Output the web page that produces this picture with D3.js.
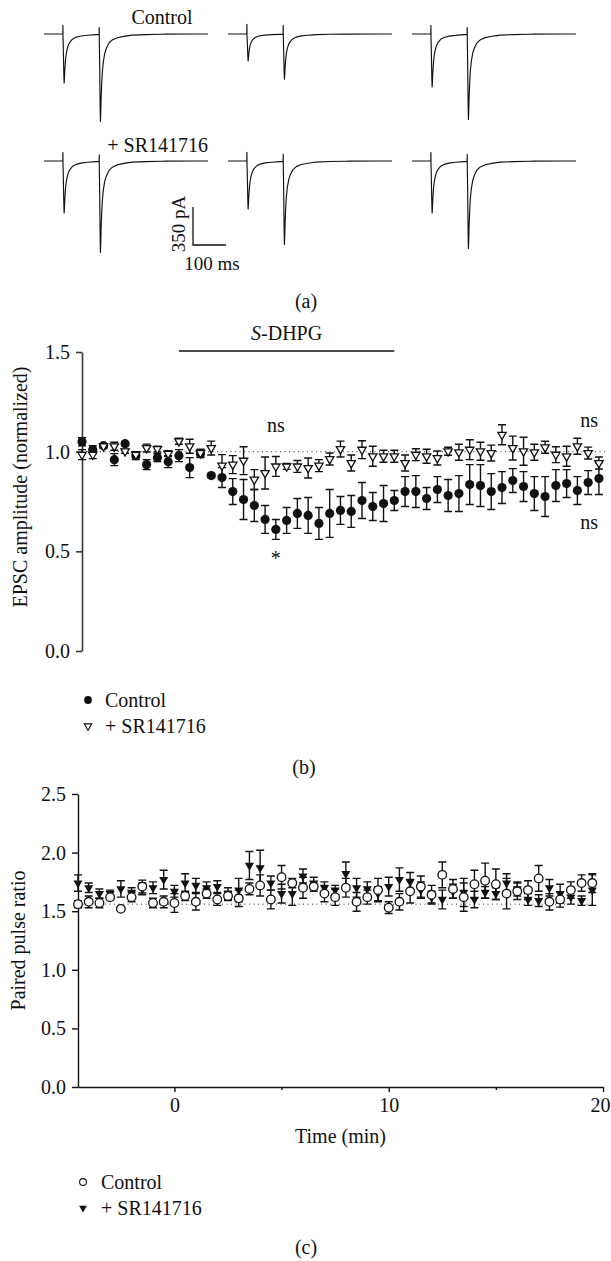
<!DOCTYPE html>
<html><head><meta charset="utf-8">
<script src="https://cdn.jsdelivr.net/npm/d3@7"></script>
<style>
body{margin:0;background:#fff}
svg{display:block}
text{font-family:"Liberation Serif","Times New Roman",serif;fill:#111}
</style>
</head><body>
<svg id="fig" width="611" height="1261" font-family="Liberation Serif, serif"></svg>
<script>
// ---------------- DATA ----------------
// Panel (a): example traces (peak EPSC amplitudes in pA)
const traceRowLabels = ["Control", "+ SR141716"];
const peak1PA = [[451, 249, 488], [479, 442, 479]];
const peak2PA = [[801, 414, 783], [838, 764, 801]];
const stimTimesMs = [0, 110];
const artifactPA = 100;
// normalized EPSC waveform (ms after stimulus, fraction of peak)
const epscTimeMs = [0, 1, 2, 3, 4, 5, 6, 8, 10, 13, 17, 22, 30, 40, 55, 75, 100, 140, 200, 300, 400];
const epscShape  = [0, -0.15, -0.45, -0.8, -1, -0.9, -0.74, -0.55, -0.42, -0.31, -0.22, -0.16, -0.1, -0.065, -0.04, -0.025, -0.012, -0.006, -0.002, 0, 0];
const artifactTimeMs = [0, 0.3, 0.7];
const artifactShape  = [0, 1, 0];
const scaleBarPA = 350, scaleBarMs = 100;

// Panels (b),(c): time (min)
const timeMin = [-4.5,-4,-3.5,-3,-2.5,-2,-1.5,-1,-0.5,0,0.5,1,1.5,2,2.5,3,3.5,4,4.5,5,5.5,6,6.5,7,7.5,8,8.5,9,9.5,10,10.5,11,11.5,12,12.5,13,13.5,14,14.5,15,15.5,16,16.5,17,17.5,18,18.5,19,19.5];

// Panel (b): EPSC amplitude (normalized)
const ampControl = [1.05,1.01,1.03,0.96,1.04,0.98,0.935,0.97,0.95,0.98,0.92,0.99,0.88,0.87,0.80,0.76,0.73,0.66,0.61,0.655,0.69,0.68,0.64,0.69,0.705,0.70,0.755,0.725,0.74,0.755,0.80,0.80,0.765,0.81,0.78,0.79,0.835,0.83,0.80,0.82,0.855,0.825,0.79,0.775,0.83,0.84,0.805,0.845,0.865];
const ampControlErr = [0.02,0.02,0.01,0.03,0.01,0.02,0.025,0.02,0.03,0.03,0.05,0.02,0.01,0.05,0.065,0.1,0.08,0.07,0.05,0.065,0.075,0.09,0.08,0.12,0.07,0.08,0.09,0.07,0.09,0.05,0.075,0.08,0.055,0.065,0.08,0.09,0.1,0.105,0.09,0.08,0.06,0.075,0.085,0.1,0.08,0.07,0.07,0.06,0.08];
const ampSR = [0.985,0.985,1.027,1.027,1.002,0.985,1.018,1.013,0.99,1.052,1.027,0.993,1.018,0.93,0.935,0.955,0.86,0.893,0.926,0.926,0.926,0.918,0.93,0.963,1.013,0.943,1.01,0.977,0.977,0.977,0.943,0.985,0.977,0.968,1.002,0.997,1.01,1.002,0.993,1.085,1.018,1.002,0.997,1.022,0.985,0.977,1.027,0.993,0.943];
const ampSRErr = [0.025,0.02,0.01,0.02,0.01,0.015,0.02,0.015,0.015,0.015,0.035,0.02,0.035,0.055,0.045,0.07,0.05,0.08,0.05,0.015,0.03,0.05,0.03,0.03,0.04,0.04,0.045,0.05,0.03,0.03,0.04,0.03,0.035,0.035,0.02,0.04,0.05,0.045,0.04,0.05,0.06,0.07,0.04,0.03,0.04,0.05,0.04,0.03,0.03];

// Panel (c): paired pulse ratio
const pprControl = [1.56,1.58,1.57,1.62,1.52,1.62,1.71,1.57,1.58,1.57,1.63,1.58,1.65,1.60,1.63,1.61,1.69,1.72,1.60,1.79,1.74,1.70,1.71,1.65,1.62,1.70,1.58,1.62,1.68,1.53,1.58,1.67,1.71,1.64,1.81,1.69,1.62,1.73,1.76,1.73,1.65,1.67,1.68,1.78,1.58,1.60,1.68,1.74,1.74];
const pprControlErr = [0.03,0.05,0.04,0.02,0.015,0.04,0.055,0.04,0.05,0.08,0.04,0.07,0.04,0.05,0.04,0.07,0.05,0.09,0.08,0.1,0.04,0.09,0.04,0.07,0.07,0.08,0.08,0.06,0.1,0.05,0.07,0.1,0.09,0.08,0.11,0.08,0.12,0.12,0.15,0.13,0.13,0.07,0.08,0.11,0.07,0.065,0.07,0.07,0.08];
const pprSR = [1.74,1.70,1.65,1.65,1.69,1.66,1.69,1.70,1.77,1.67,1.74,1.72,1.70,1.71,1.65,1.68,1.89,1.87,1.74,1.65,1.65,1.80,1.74,1.70,1.68,1.82,1.70,1.69,1.65,1.71,1.77,1.75,1.68,1.62,1.60,1.67,1.66,1.60,1.66,1.65,1.74,1.69,1.60,1.59,1.70,1.65,1.62,1.59,1.68];
const pprSRErr = [0.07,0.04,0.04,0.03,0.07,0.04,0.05,0.05,0.08,0.05,0.08,0.06,0.05,0.05,0.05,0.1,0.12,0.15,0.06,0.08,0.1,0.06,0.05,0.05,0.04,0.1,0.08,0.06,0.06,0.08,0.1,0.08,0.07,0.05,0.08,0.06,0.12,0.07,0.05,0.05,0.08,0.06,0.05,0.05,0.07,0.08,0.06,0.04,0.13];

const yTicksB = [0, 0.5, 1.0, 1.5];
const yTicksC = [0, 0.5, 1.0, 1.5, 2.0, 2.5];
const xTicksC = [0, 10, 20];
const xMinorTicksC = [5, 15];
const drugPeriod = [0, 10];
const baselineB = 1.0, baselinePPR = 1.56;

// ---------------- DRAW ----------------
const svg = d3.select("#fig");
const FS = 20;
const font = '"Liberation Serif","Times New Roman",serif';

function txt(g, x, y, s, anchor, size) {
  return g.append("text").attr("x", x).attr("y", y)
    .attr("text-anchor", anchor || "start").attr("font-size", size || FS)
    .attr("font-family", font).attr("fill", "#111").text(s);
}

// ===== Panel (a) =====
const groupLeft = [44, 228, 412];
const rowBase = [34, 161];
const epscF = d3.scaleLinear().domain(epscTimeMs).range(epscShape).clamp(true);
const artF = d3.scaleLinear().domain(artifactTimeMs).range(artifactShape).clamp(true);
const tStart = -57, tEnd = 440;
const sampleT = Array.from(new Set([tStart, tEnd].concat(
  ...stimTimesMs.map(s => epscTimeMs.map(t => s + t).concat(artifactTimeMs.map(t => s + t)))
))).filter(t => t >= tStart && t <= tEnd).sort((a, b) => a - b);

const gA = svg.append("g");
rowBase.forEach((base, r) => {
  const y = d3.scaleLinear().domain([0, -scaleBarPA]).range([base, base + 38]);
  groupLeft.forEach((left, c) => {
    const x = d3.scaleLinear().domain([tStart, tEnd]).range([left, left + 164]);
    const amps = [peak1PA[r][c], peak2PA[r][c]];
    const pts = sampleT.map(t => {
      let v = 0;
      stimTimesMs.forEach((s, k) => {
        v += amps[k] * epscF(t - s) + artifactPA * artF(t - s);
      });
      return [t, v];
    });
    gA.append("path").datum(pts)
      .attr("d", d3.line().x(d => x(d[0])).y(d => y(d[1])))
      .attr("fill", "none").attr("stroke", "#111").attr("stroke-width", 1.15)
      .attr("stroke-linejoin", "round");
  });
});
txt(gA, 162, 24, traceRowLabels[0], "middle");
txt(gA, 208, 152, traceRowLabels[1], "end");
// scale bar
{
  const xs = d3.scaleLinear().domain([0, scaleBarMs]).range([193, 226]);
  const ys = d3.scaleLinear().domain([0, scaleBarPA]).range([245, 207]);
  gA.append("path")
    .attr("d", `M${xs(0)},${ys(scaleBarPA)}V${ys(0)}H${xs(scaleBarMs)}`)
    .attr("fill", "none").attr("stroke", "#111").attr("stroke-width", 1.3);
  txt(gA, 0, 0, scaleBarPA + " pA", "middle", 19)
    .attr("transform", `translate(185,${(ys(0) + ys(scaleBarPA)) / 2 - 2}) rotate(-90)`);
  txt(gA, 212, 270, scaleBarMs + " ms", "middle", 19);
}
txt(svg, 306, 308, "(a)", "middle");

// helpers
function styleAxis(g) {
  g.selectAll("text").attr("font-size", FS).attr("font-family", font).attr("fill", "#111");
  g.selectAll("line,path").attr("stroke", "#111").attr("stroke-width", 1.4);
}
function errBars(g, x, y, vals, errs, cap) {
  const sel = g.append("g").attr("stroke", "#111").attr("stroke-width", 1.4).attr("fill", "none");
  vals.forEach((v, i) => {
    const cx = x(timeMin[i]), y1 = y(v - errs[i]), y2 = y(v + errs[i]);
    sel.append("path").attr("d",
      `M${cx},${y1}V${y2}M${cx - cap},${y1}H${cx + cap}M${cx - cap},${y2}H${cx + cap}`);
  });
}
const triDown = d3.symbol().type(d3.symbolTriangle);

// ===== Panel (b) =====
const xB = d3.scaleLinear().domain([-4.5, 20]).range([82, 609.7]);
const yB = d3.scaleLinear().domain([0, 1.5]).range([651, 352]);
const gB = svg.append("g");
gB.append("line").attr("x1", xB(-4.5)).attr("x2", xB(19.8)).attr("y1", yB(baselineB)).attr("y2", yB(baselineB))
  .attr("stroke", "#333").attr("stroke-width", 1).attr("stroke-dasharray", "1,3.5");
const axB = gB.append("g").attr("transform", `translate(${xB(-4.5)},0)`)
  .call(d3.axisLeft(yB).tickValues(yTicksB).tickFormat(d3.format(".1f")).tickSize(6).tickSizeOuter(0).tickPadding(6));
styleAxis(axB);
axB.selectAll("line,path").attr("stroke", "#3a3a3a").attr("stroke-width", 1.6);
txt(gB, 0, 0, "EPSC amplitude (normalized)", "middle").attr("transform", `translate(27,487) rotate(-90)`);
// drug bar
gB.append("line").attr("x1", xB(drugPeriod[0])).attr("x2", xB(drugPeriod[1])).attr("y1", 351).attr("y2", 351)
  .attr("stroke", "#111").attr("stroke-width", 1.5);
const dh = txt(gB, (xB(drugPeriod[0]) + xB(drugPeriod[1])) / 2, 340, null, "middle");
dh.append("tspan").attr("font-style", "italic").text("S");
dh.append("tspan").text("-DHPG");
// control (filled circles)
errBars(gB, xB, yB, ampControl, ampControlErr, 4);
gB.append("g").selectAll("circle").data(ampControl).join("circle")
  .attr("cx", (d, i) => xB(timeMin[i])).attr("cy", d => yB(d)).attr("r", 4.6).attr("fill", "#111");
// SR (open triangles)
errBars(gB, xB, yB, ampSR, ampSRErr, 4);
gB.append("g").selectAll("path").data(ampSR).join("path")
  .attr("d", triDown.size(30)())
  .attr("transform", (d, i) => `translate(${xB(timeMin[i])},${yB(d)}) rotate(180)`)
  .attr("fill", "#fff").attr("stroke", "#111").attr("stroke-width", 1.3);
// annotations
txt(gB, xB(4.5), yB(1.10), "ns", "middle");
txt(gB, xB(4.5), yB(0.43), "*", "middle");
txt(gB, xB(19.05), yB(1.125), "ns", "middle");
txt(gB, xB(19.05), yB(0.61), "ns", "middle");
// legend b
gB.append("circle").attr("cx", 88).attr("cy", 700).attr("r", 3.9).attr("fill", "#111");
txt(gB, 105, 707, "Control");
gB.append("path").attr("d", triDown.size(24)()).attr("transform", "translate(88,726) rotate(180)")
  .attr("fill", "#fff").attr("stroke", "#111").attr("stroke-width", 1.1);
txt(gB, 105, 733, "+ SR141716");
txt(svg, 304, 774, "(b)", "middle");

// ===== Panel (c) =====
const xC = d3.scaleLinear().domain([-4.5, 20]).range([78, 603]);
const yC = d3.scaleLinear().domain([0, 2.5]).range([1087, 794]);
const gC = svg.append("g");
gC.append("line").attr("x1", xC(-4.5)).attr("x2", xC(19.6)).attr("y1", yC(baselinePPR)).attr("y2", yC(baselinePPR))
  .attr("stroke", "#333").attr("stroke-width", 1).attr("stroke-dasharray", "1,3.5");
const axCy = gC.append("g").attr("transform", `translate(${xC(-4.5)},0)`)
  .call(d3.axisLeft(yC).tickValues(yTicksC).tickFormat(d3.format(".1f")).tickSize(6).tickSizeOuter(0).tickPadding(6));
styleAxis(axCy);
const axCx = gC.append("g").attr("transform", `translate(0,${yC(0)})`)
  .call(d3.axisBottom(xC).tickValues(xTicksC).tickFormat(d3.format("d")).tickSize(5).tickSizeOuter(0).tickPadding(6));
styleAxis(axCx);
// keep the last tick label inside the page edge
axCx.selectAll(".tick text").filter(d => d === 20).attr("dx", -3);
const axCm = gC.append("g").attr("transform", `translate(0,${yC(0)})`)
  .call(d3.axisBottom(xC).tickValues(xMinorTicksC).tickFormat("").tickSize(3).tickSizeOuter(0));
styleAxis(axCm);
axCm.select(".domain").remove();
txt(gC, 0, 0, "Paired pulse ratio", "middle").attr("transform", `translate(25,${(yC(0) + yC(2.5)) / 2}) rotate(-90)`);
txt(gC, (xC(-4.5) + xC(20)) / 2, 1143, "Time (min)", "middle");
// SR (filled triangles)
errBars(gC, xC, yC, pprSR, pprSRErr, 4);
gC.append("g").selectAll("path").data(pprSR).join("path")
  .attr("d", triDown.size(36)())
  .attr("transform", (d, i) => `translate(${xC(timeMin[i])},${yC(d)}) rotate(180)`)
  .attr("fill", "#111");
// control (open circles)
errBars(gC, xC, yC, pprControl, pprControlErr, 4);
gC.append("g").selectAll("circle").data(pprControl).join("circle")
  .attr("cx", (d, i) => xC(timeMin[i])).attr("cy", d => yC(d)).attr("r", 4.3)
  .attr("fill", "#fff").attr("stroke", "#111").attr("stroke-width", 1.3);
// legend c
gC.append("circle").attr("cx", 83).attr("cy", 1182).attr("r", 3.4).attr("fill", "#fff").attr("stroke", "#111").attr("stroke-width", 1.1);
txt(gC, 101, 1189, "Control");
gC.append("path").attr("d", triDown.size(26)()).attr("transform", "translate(83,1208) rotate(180)").attr("fill", "#111");
txt(gC, 101, 1215, "+ SR141716");
txt(svg, 306, 1254, "(c)", "middle");
</script>
</body></html>
